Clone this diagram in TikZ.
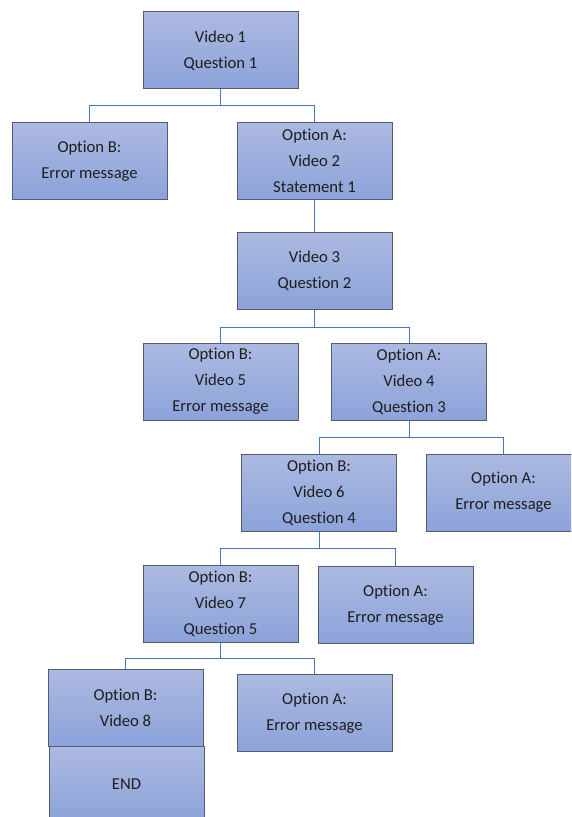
\documentclass[tikz,border=0pt]{standalone}
\usepackage{fontspec}
\setmainfont{Carlito}[Ligatures=NoCommon]
\usepackage{tikz}
\definecolor{boxtop}{RGB}{172,186,225}
\definecolor{boxbottom}{RGB}{140,162,217}
\definecolor{boxline}{RGB}{82,92,118}
\definecolor{linkblue}{RGB}{72,116,192}
\definecolor{textgray}{RGB}{30,30,30}

\begin{document}
\begin{tikzpicture}[x=0.75pt,y=0.75pt,yscale=-1,xscale=1,
  flowbox/.style={draw=boxline, line width=0.75, top color=boxtop, bottom color=boxbottom,
    minimum width=116.25pt, minimum height=57.75pt, align=center, inner sep=0.75pt,
    text=textgray, font=\fontsize{12.5}{19.5}\selectfont},
  link/.style={draw=linkblue, line width=0.75}]
\useasboundingbox (0,0) rectangle (571,817);
\clip (0,0) rectangle (571,817);

% Boxes
\node [flowbox] (video1) at (220.5,50.5) {Video 1\\Question 1};
\node [flowbox] (optB1) at (89.5,161) {Option B:\\Error message};
\node [flowbox] (optA1) at (314.5,161) {Option A:\\Video 2\\Statement 1};
\node [flowbox] (video3) at (314.5,271) {Video 3\\Question 2};
\node [flowbox] (optB2) at (220.5,381.5) {Option B:\\Video 5\\Error message};
\node [flowbox] (optA2) at (409,381.5) {Option A:\\Video 4\\Question 3};
\node [flowbox] (optB3) at (319,493) {Option B:\\Video 6\\Question 4};
\node [flowbox] (optA3) at (503.5,492.5) {Option A:\\Error message};
\node [flowbox] (optB4) at (220.5,603.5) {Option B:\\Video 7\\Question 5};
\node [flowbox] (optA4) at (395.5,605) {Option A:\\Error message};
\node [flowbox] (optB5) at (125.5,707.5) {Option B:\\Video 8};
\node [flowbox, minimum height=57pt] (endbox) at (126.5,784) {END};
\node [flowbox] (optA5) at (314.5,713) {Option A:\\Error message};

% Connectors
\draw [link] (video1.south) -- ++(0,16) -| (optB1.north);
\draw [link] (video1.south) -- ++(0,16) -| (optA1.north);
\draw [link] (optA1.south) -- (video3.north);
\draw [link] (video3.south) -- ++(0,17) -| (optB2.north);
\draw [link] (video3.south) -- ++(0,17) -| (optA2.north);
\draw [link] (optA2.south) -- ++(0,17) -| (optB3.north);
\draw [link] (optA2.south) -- ++(0,17) -| (optA3.north);
\draw [link] (optB3.south) -- ++(0,16) -| (optB4.north);
\draw [link] (optB3.south) -- ++(0,16) -| (optA4.north);
\draw [link] (optB4.south) -- ++(0,16) -| (optB5.north);
\draw [link] (optB4.south) -- ++(0,16) -| (optA5.north);

\end{tikzpicture}
\end{document}
